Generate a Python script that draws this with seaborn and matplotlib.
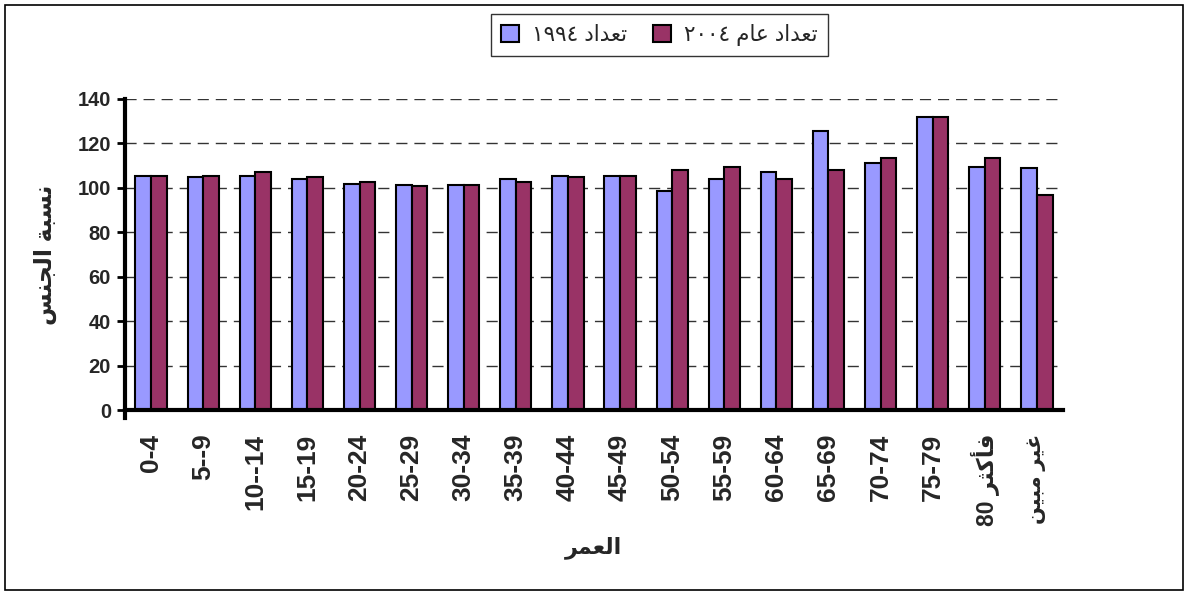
import re
import numpy as np
import pandas as pd
import matplotlib
matplotlib.use('Agg')
import matplotlib.pyplot as plt
import seaborn as sns
from matplotlib.patches import Rectangle

ages = ['0-4', '5--9', '10--14', '15-19', '20-24', '25-29', '30-34', '35-39', '40-44',
        '45-49', '50-54', '55-59', '60-64', '65-69', '70-74', '75-79', '80 فأكثر', 'غير مبين']
ratio_1994 = [105.5, 104.7, 105.5, 104.0, 101.6, 101.4, 101.4, 104.0, 105.5,
              105.5, 98.4, 104.0, 107.3, 125.6, 111.3, 132.0, 109.5, 108.8]
ratio_2004 = [105.5, 105.5, 107.3, 104.7, 102.5, 100.7, 101.4, 102.5, 104.7,
              105.5, 107.9, 109.5, 104.0, 107.9, 113.6, 132.0, 113.6, 96.8]
series = ['تعداد ١٩٩٤', 'تعداد عام ٢٠٠٤']
colors = ['#9999FF', '#993366']
y_label = 'نسبة الجنس'
x_label = 'العمر'

# arabic contextual forms: isolated, final, initial, medial (None = no forward join)
FORMS = {
    'ا': (0xFE8D, 0xFE8E, None, None),
    'أ': (0xFE83, 0xFE84, None, None),
    'ب': (0xFE8F, 0xFE90, 0xFE91, 0xFE92),
    'ة': (0xFE93, 0xFE94, None, None),
    'ت': (0xFE95, 0xFE96, 0xFE97, 0xFE98),
    'ث': (0xFE99, 0xFE9A, 0xFE9B, 0xFE9C),
    'ج': (0xFE9D, 0xFE9E, 0xFE9F, 0xFEA0),
    'د': (0xFEA9, 0xFEAA, None, None),
    'ر': (0xFEAD, 0xFEAE, None, None),
    'س': (0xFEB1, 0xFEB2, 0xFEB3, 0xFEB4),
    'ع': (0xFEC9, 0xFECA, 0xFECB, 0xFECC),
    'غ': (0xFECD, 0xFECE, 0xFECF, 0xFED0),
    'ف': (0xFED1, 0xFED2, 0xFED3, 0xFED4),
    'ك': (0xFED9, 0xFEDA, 0xFEDB, 0xFEDC),
    'ل': (0xFEDD, 0xFEDE, 0xFEDF, 0xFEE0),
    'م': (0xFEE1, 0xFEE2, 0xFEE3, 0xFEE4),
    'ن': (0xFEE5, 0xFEE6, 0xFEE7, 0xFEE8),
    'ي': (0xFEF1, 0xFEF2, 0xFEF3, 0xFEF4),
}


def ar(text, rtl=True):
    """shape arabic letters and put the string in visual (left to right) order"""
    if not any(ch in FORMS for ch in text):
        return text
    out = []
    for i, ch in enumerate(text):
        if ch not in FORMS:
            out.append(ch)
            continue
        prev = text[i - 1] if i > 0 else ''
        nxt = text[i + 1] if i + 1 < len(text) else ''
        jp = prev in FORMS and FORMS[prev][2] is not None
        jn = nxt in FORMS and FORMS[ch][2] is not None
        iso, fin, ini, med = FORMS[ch]
        out.append(chr(med if jp and jn else fin if jp else ini if jn else iso))
    runs = re.findall(r'[0-9\u0660-\u0669]+|\s+|[^\s0-9\u0660-\u0669]+', ''.join(out))
    runs = [r if r[0].isdigit() else r[::-1] for r in runs]
    return ''.join(reversed(runs) if rtl else runs)


sns.set_style('white')
plt.rcParams['font.family'] = ['Liberation Sans', 'DejaVu Sans']

df = pd.DataFrame({
    'age': ages * 2,
    'ratio': ratio_1994 + ratio_2004,
    'census': [ar(series[0])] * len(ages) + [ar(series[1])] * len(ages),
})

fig = plt.figure(figsize=(11.88, 5.94), dpi=100)
ax = fig.add_axes([125 / 1188, 1 - 410 / 594, (1063 - 125) / 1188, (410 - 99) / 594])

sns.barplot(data=df, x='age', y='ratio', hue='census', order=ages,
            palette=colors, saturation=1, width=0.6, edgecolor='black',
            linewidth=1.5, ax=ax)

ax.set_ylim(0, 140)
ax.set_xlim(-0.5, len(ages) - 0.5)
ax.set_yticks(np.arange(0, 141, 20))
ax.yaxis.grid(True, linestyle=(0, (8, 5)), color='#333333', lw=1)
ax.set_axisbelow(True)

ax.set_xticks(range(len(ages)))
ax.set_xticklabels([ar(a, rtl=(a != '80 فأكثر')) for a in ages],
                   rotation=90, fontweight='bold', fontsize=19)
xt = ax.get_xticklabels()
xt[-2].set_fontsize(16.5)
xt[-1].set_fontsize(15)
ax.set_xticks(np.arange(-0.5, len(ages), 1), minor=True)
ax.tick_params(axis='x', which='major', length=0, pad=17)
ax.tick_params(axis='x', which='minor', length=6, width=2, color='black')
ax.tick_params(axis='y', length=6, width=2, color='black', labelsize=14.5, left=True, pad=4)
for t in ax.get_yticklabels():
    t.set_fontweight('bold')

for s in ['top', 'right']:
    ax.spines[s].set_visible(False)
for s in ['left', 'bottom']:
    ax.spines[s].set_linewidth(3)
    ax.spines[s].set_color('black')
ax.spines['left'].set_bounds(-3.5, 140)

ax.set_xlabel(ar(x_label), fontsize=16, fontweight='bold')
ax.xaxis.set_label_coords(0.5, -0.405)
ax.set_ylabel(ar(y_label), fontsize=17, fontweight='bold', labelpad=15)

handles, labels = ax.get_legend_handles_labels()
ax.get_legend().remove()
leg = fig.legend(handles, labels, loc='center', bbox_to_anchor=(0.555, 0.941), ncol=2,
                 fontsize=15.5, frameon=True, fancybox=False, edgecolor='black',
                 handlelength=0.85, handleheight=0.85, columnspacing=1.2,
                 handletextpad=0.6, borderpad=0.45)
leg.get_frame().set_linewidth(1)

fig.patches.append(Rectangle((5 / 1188, 4 / 594), 1178 / 1188, 585 / 594,
                             transform=fig.transFigure, fill=False, ec='black', lw=1.2))

fig.savefig('out.png', dpi=100)
